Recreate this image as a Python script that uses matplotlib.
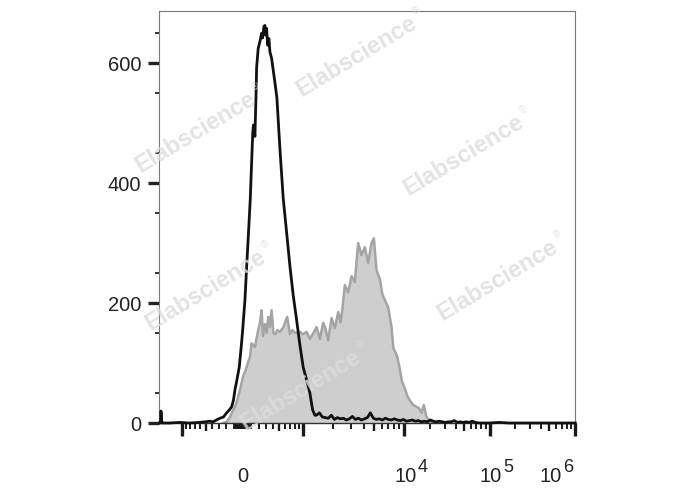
import numpy as np
import matplotlib
matplotlib.use("Agg")
import matplotlib.pyplot as plt

plt.rcParams["font.family"] = ["Liberation Sans", "DejaVu Sans"]

# histograms: display channel (0..415, zero value at 83) -> events
control_channel = [0, 1, 1.5, 2.5, 10, 20, 30, 40, 46, 50, 53.5, 57, 60.5, 64, 67.2, 70, 72.2, 74, 75.5,
                   77.5, 79.8, 81.5, 83, 85.5, 87.2, 89, 90.8, 92, 93.3, 94, 95.5, 96.5, 97.2, 98.8, 100.5,
                   102.2, 103.2, 104.5, 105.5, 106.2, 107.2, 108.2, 109.5, 110.5, 112.2, 115.5, 117.5, 120.5,
                   123.8, 127.2, 130.5, 133.8, 137.2, 140.5, 143.8, 147.2, 150.5, 153.2, 155.5, 157, 160, 163,
                   166, 169, 172, 175, 178, 181, 184, 187, 190, 193, 196, 199, 202, 205, 208, 211, 214, 217,
                   220, 223, 226, 229, 232, 235, 238, 241, 244, 247, 250, 253, 256, 259, 262, 265, 268, 271,
                   274, 277, 280, 283, 286, 289, 292, 295, 298, 301, 304, 307, 310, 313, 316, 320, 330, 340,
                   350, 416]
control_count = [0, 0, 20, 0, 0, 1, 0, 1, 2, 3, 2, 5, 8, 10, 17, 22, 27, 38, 55,
                 72, 93, 122, 150, 205, 260, 315, 372, 425, 483, 497, 478, 540, 593, 625, 636,
                 650, 642, 661, 663, 647, 658, 630, 641, 619, 608, 568, 542, 458,
                 375, 318, 262, 213, 172, 130, 93, 72, 50, 22, 13, 13, 17, 10,
                 9, 8, 13, 6, 9, 7, 8, 5, 7, 11, 6, 8, 5, 7, 9, 17, 8, 6,
                 7, 5, 8, 6, 5, 7, 5, 4, 6, 3, 4, 5, 3, 4, 2, 3, 2, 5,
                 3, 2, 3, 2, 1, 2, 2, 4, 1, 2, 1, 2, 1, 3, 1, 0, 0, 1,
                 0, 0]

stained_channel = [63.5, 67.2, 70.5, 73.8, 75.5, 77.8, 80.5, 82.2, 83.5, 87.2, 88.8, 90.5, 92.2, 95.5, 98.8,
                   100.5, 102.2, 103.5, 105.5, 107.2, 108.8, 110.5, 112.2, 114, 116, 118, 120.5, 124, 127.8,
                   130.5, 133, 136, 140.5, 143.5, 147.2, 150.5, 154, 157.2, 160.5, 163.8, 166, 168.8, 172.2,
                   175.5, 178.8, 181.2, 183, 185.5, 188.8, 192.2, 195.5, 197.2, 198.8, 202.2, 205.5, 208.8,
                   212.2, 214.5, 217.2, 220.5, 223, 225.5, 228.8, 232.2, 234, 236, 238, 240.5, 242.5, 245.5,
                   248, 250.5, 254, 257.2, 259.5, 262.2, 264.5, 267.2, 270, 272.2, 276, 281]
stained_count = [0, 2, 10, 22, 27, 38, 55, 67, 77, 93, 102, 110, 133, 127, 155,
                 167, 188, 145, 165, 150, 177, 160, 188, 150, 148, 155, 152, 160, 177,
                 148, 155, 150, 152, 148, 152, 140, 150, 160, 140, 167, 158, 138, 175,
                 158, 185, 168, 190, 230, 218, 245, 235, 270, 300, 280, 293, 267,
                 300, 308, 255, 240, 215, 205, 193, 160, 125, 118, 110, 90, 70, 58,
                 45, 38, 30, 27, 25, 17, 30, 10, 5, 2, 1, 0]

# fluorescence values that carry a tick on the biexponential axis
big_ticks = [-1e3, 1e3, 1e4, 1e5, 1e6]
mid_ticks = [-500, 500, 5e3, 5e4, 5e5]
small_ticks = ([m * 10 ** k for k in (1, 2, 3, 4, 5) for m in range(1, 10)
                if not (k >= 3 and m == 1) and not (k >= 2 and m == 5)]
               + [-m * 10 ** k for k in (1, 2) for m in range(1, 10) if not (k == 2 and m == 5)])
x_labels = [(0, "0", ""), (1e4, "10", "4"), (1e5, "10", "5"), (1e6, "10", "6")]
y_ticks = [0, 200, 400, 600]


def biex(v):
    # value -> display channel; asinh around zero, log decades above 1000
    v = np.asarray(v, dtype=float)
    a = np.abs(v)
    lin = 60.3 * np.arcsinh(a / 500) / np.arcsinh(2)
    low = 60.3 + 101.5 * np.log10(np.maximum(a, 1) / 1e3)
    high = 161.8 + 85.5 * np.log10(np.maximum(a, 1) / 1e4)
    p = np.where(a <= 1e3, lin, np.where(a <= 1e4, low, high))
    return 83 + np.sign(v) * p


fig = plt.figure(figsize=(6.88, 4.9), dpi=100)
ax = fig.add_axes([0.2318, 0.1367, 0.604, 0.8408])

ax.fill_between(stained_channel, stained_count, color="#cecece", lw=0, zorder=1)
ax.plot(stained_channel, stained_count, color="#a4a4a4", lw=1.8, zorder=2)
ax.plot(control_channel, control_count, color="#111111", lw=2.0, zorder=3, clip_on=False)

ax.set_xlim(0, 415.5)
ax.set_ylim(0, 687)

for side in ["top", "right", "left"]:
    ax.spines[side].set_color("#7a7a7a")
    ax.spines[side].set_linewidth(0.8)
ax.spines["bottom"].set_color("#333333")
ax.spines["bottom"].set_linewidth(1.0)

# y axis
ax.set_yticks(y_ticks)
ax.set_yticks(np.arange(50, 687, 100), minor=True)
ax.tick_params(axis="y", which="major", length=8, width=2.4, color="#222222",
               labelsize=14.5, pad=5, labelcolor="#222222")
ax.tick_params(axis="y", which="minor", length=3, width=1.3, color="#222222")

# x axis: every tick is drawn as a minor tick, then sized one by one
kinds = [(v, 9.0, 2.4) for v in big_ticks] + [(v, 6.0, 1.7) for v in mid_ticks] + \
        [(v, 4.0, 1.4) for v in small_ticks]
kinds.sort(key=lambda k: k[0])
ax.set_xticks([])
ax.set_xticks(biex([k[0] for k in kinds]), minor=True)
ax.tick_params(axis="x", which="minor", color="#1a1a1a", labelbottom=False)
for tick, (v, ln, w) in zip(ax.xaxis.get_minor_ticks(len(kinds)), kinds):
    tick.tick1line.set_markersize(ln)
    tick.tick1line.set_markeredgewidth(w)

trans = ax.get_xaxis_transform()
for v, base, sup in x_labels:
    if not sup:
        ax.annotate(base, xy=(biex(v), 0), xycoords=trans, xytext=(0, -42.5),
                    textcoords="offset points", ha="center", va="baseline",
                    fontsize=14.5, color="#222222", annotation_clip=False)
        continue
    dx = -9.4 if v == 1e6 else 9.0
    ax.annotate(base, xy=(biex(v), 0), xycoords=trans, xytext=(dx, -42.5),
                textcoords="offset points", ha="right", va="baseline",
                fontsize=14.5, color="#222222", annotation_clip=False)
    ax.annotate(sup, xy=(biex(v), 0), xycoords=trans, xytext=(dx + 1.0, -35.3),
                textcoords="offset points", ha="left", va="baseline",
                fontsize=13, color="#222222", annotation_clip=False)

# watermark
marks = [(356, 434), (195, 358), (463, 335), (205, 200), (497, 210), (300, 100)]
ang = 31
for cx, cy in marks:
    ax.annotate("Elabscience", xy=(cx, cy), xycoords="figure pixels", ha="center", va="center",
                rotation=ang, rotation_mode="anchor", fontsize=17, fontweight="bold",
                color="#dcdcdc", alpha=0.8, zorder=10, annotation_clip=False)
    d, h = 75, 8
    ox = (d * np.cos(np.radians(ang)) - h * np.sin(np.radians(ang))) * 0.72
    oy = (d * np.sin(np.radians(ang)) + h * np.cos(np.radians(ang))) * 0.72
    ax.annotate("\u00ae", xy=(cx, cy), xycoords="figure pixels", xytext=(ox, oy),
                textcoords="offset points", ha="center", va="center", rotation=ang,
                fontsize=7, color="#dcdcdc", alpha=0.8, zorder=10, annotation_clip=False)

fig.savefig("out.png", dpi=100)
